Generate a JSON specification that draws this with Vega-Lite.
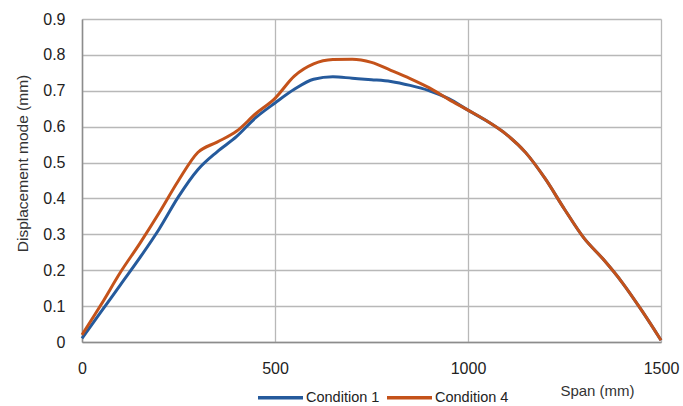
{
  "$schema": "https://vega.github.io/schema/vega-lite/v6.json",
  "width": 579,
  "height": 323,
  "autosize": {"type": "none"},
  "padding": {"left": 82, "top": 19, "right": 22, "bottom": 64},
  "background": "white",
  "config": {
    "view": {"stroke": null},
    "font": "Liberation Sans"
  },
  "data": {
    "values": [
      {"span": 0, "value": 0.01, "series": "Condition 1"},
      {"span": 50, "value": 0.085, "series": "Condition 1"},
      {"span": 100, "value": 0.16, "series": "Condition 1"},
      {"span": 150, "value": 0.235, "series": "Condition 1"},
      {"span": 200, "value": 0.315, "series": "Condition 1"},
      {"span": 250, "value": 0.405, "series": "Condition 1"},
      {"span": 300, "value": 0.48, "series": "Condition 1"},
      {"span": 350, "value": 0.53, "series": "Condition 1"},
      {"span": 400, "value": 0.572, "series": "Condition 1"},
      {"span": 450, "value": 0.625, "series": "Condition 1"},
      {"span": 500, "value": 0.666, "series": "Condition 1"},
      {"span": 550, "value": 0.704, "series": "Condition 1"},
      {"span": 600, "value": 0.732, "series": "Condition 1"},
      {"span": 650, "value": 0.739, "series": "Condition 1"},
      {"span": 700, "value": 0.735, "series": "Condition 1"},
      {"span": 750, "value": 0.731, "series": "Condition 1"},
      {"span": 800, "value": 0.726, "series": "Condition 1"},
      {"span": 850, "value": 0.715, "series": "Condition 1"},
      {"span": 900, "value": 0.7, "series": "Condition 1"},
      {"span": 950, "value": 0.678, "series": "Condition 1"},
      {"span": 1000, "value": 0.646, "series": "Condition 1"},
      {"span": 1050, "value": 0.615, "series": "Condition 1"},
      {"span": 1100, "value": 0.578, "series": "Condition 1"},
      {"span": 1150, "value": 0.527, "series": "Condition 1"},
      {"span": 1200, "value": 0.455, "series": "Condition 1"},
      {"span": 1250, "value": 0.37, "series": "Condition 1"},
      {"span": 1300, "value": 0.29, "series": "Condition 1"},
      {"span": 1350, "value": 0.231, "series": "Condition 1"},
      {"span": 1400, "value": 0.165, "series": "Condition 1"},
      {"span": 1450, "value": 0.088, "series": "Condition 1"},
      {"span": 1500, "value": 0.005, "series": "Condition 1"},
      {"span": 0, "value": 0.02, "series": "Condition 4"},
      {"span": 50, "value": 0.105, "series": "Condition 4"},
      {"span": 100, "value": 0.195, "series": "Condition 4"},
      {"span": 150, "value": 0.275, "series": "Condition 4"},
      {"span": 200, "value": 0.36, "series": "Condition 4"},
      {"span": 250, "value": 0.45, "series": "Condition 4"},
      {"span": 300, "value": 0.528, "series": "Condition 4"},
      {"span": 350, "value": 0.557, "series": "Condition 4"},
      {"span": 400, "value": 0.587, "series": "Condition 4"},
      {"span": 450, "value": 0.636, "series": "Condition 4"},
      {"span": 500, "value": 0.679, "series": "Condition 4"},
      {"span": 550, "value": 0.741, "series": "Condition 4"},
      {"span": 600, "value": 0.775, "series": "Condition 4"},
      {"span": 650, "value": 0.787, "series": "Condition 4"},
      {"span": 700, "value": 0.788, "series": "Condition 4"},
      {"span": 750, "value": 0.779, "series": "Condition 4"},
      {"span": 800, "value": 0.757, "series": "Condition 4"},
      {"span": 850, "value": 0.734, "series": "Condition 4"},
      {"span": 900, "value": 0.708, "series": "Condition 4"},
      {"span": 950, "value": 0.676, "series": "Condition 4"},
      {"span": 1000, "value": 0.646, "series": "Condition 4"},
      {"span": 1050, "value": 0.615, "series": "Condition 4"},
      {"span": 1100, "value": 0.578, "series": "Condition 4"},
      {"span": 1150, "value": 0.527, "series": "Condition 4"},
      {"span": 1200, "value": 0.455, "series": "Condition 4"},
      {"span": 1250, "value": 0.37, "series": "Condition 4"},
      {"span": 1300, "value": 0.29, "series": "Condition 4"},
      {"span": 1350, "value": 0.231, "series": "Condition 4"},
      {"span": 1400, "value": 0.165, "series": "Condition 4"},
      {"span": 1450, "value": 0.088, "series": "Condition 4"},
      {"span": 1500, "value": 0.005, "series": "Condition 4"}
    ]
  },
  "mark": {"type": "line", "interpolate": "monotone", "strokeWidth": 3},
  "encoding": {
    "x": {
      "field": "span",
      "type": "quantitative",
      "scale": {"domain": [0, 1500], "nice": false},
      "axis": {
        "values": [0, 500, 1000, 1500],
        "format": "d",
        "title": "Span (mm)",
        "titleFont": "Liberation Sans",
        "titleFontSize": 15,
        "titleFontWeight": "normal",
        "titleColor": "#333333",
        "titleX": 515,
        "titleY": 48,
        "titleAlign": "center",
        "titleBaseline": "middle",
        "labelFont": "Liberation Sans",
        "labelFontSize": 16,
        "labelColor": "#222222",
        "labelPadding": 18,
        "labelFlush": false,
        "ticks": false,
        "grid": true,
        "gridColor": "#b8b8b8",
        "gridWidth": 1.3,
        "domainColor": "#8c8c8c",
        "domainWidth": 1.5
      }
    },
    "y": {
      "field": "value",
      "type": "quantitative",
      "scale": {"domain": [0, 0.9], "nice": false},
      "axis": {
        "values": [0, 0.1, 0.2, 0.3, 0.4, 0.5, 0.6, 0.7, 0.8, 0.9],
        "format": "~g",
        "title": "Displacement mode (mm)",
        "titleFont": "Liberation Sans",
        "titleFontSize": 15.5,
        "titleFontWeight": "normal",
        "titleColor": "#333333",
        "titleX": -60,
        "titleY": 144,
        "titleAngle": -90,
        "titleAlign": "center",
        "titleBaseline": "middle",
        "labelFont": "Liberation Sans",
        "labelFontSize": 16,
        "labelColor": "#222222",
        "labelPadding": 17,
        "ticks": false,
        "grid": true,
        "gridColor": "#b8b8b8",
        "gridWidth": 1.3,
        "domainColor": "#8c8c8c",
        "domainWidth": 1.5
      }
    },
    "color": {
      "field": "series",
      "type": "nominal",
      "scale": {"domain": ["Condition 1", "Condition 4"], "range": ["#255a9c", "#c4521a"]},
      "legend": {
        "title": null,
        "orient": "none",
        "direction": "horizontal",
        "legendX": 174,
        "legendY": 354,
        "symbolType": "stroke",
        "symbolSize": 2025,
        "symbolStrokeWidth": 3.5,
        "labelFont": "Liberation Sans",
        "labelFontSize": 14.5,
        "labelColor": "#222222",
        "labelOffset": 1,
        "columnPadding": 0
      }
    }
  }
}
